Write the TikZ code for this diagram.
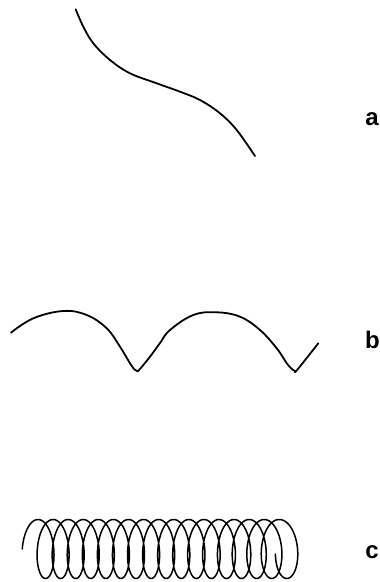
\documentclass[tikz,border=0pt]{standalone}
\usepackage{fontspec}
\setmainfont{Liberation Sans}
\begin{document}
\begin{tikzpicture}[x=1pt,y=-1pt,
  trace/.style={line width=1.8pt,line cap=round,line join=round},
  lbl/.style={font=\fontsize{24}{24}\selectfont\bfseries,anchor=base,inner sep=0pt}]
\useasboundingbox (0,0) rectangle (380,582);
% curve a
\draw[trace] plot[smooth,tension=0.6] coordinates {
 (75.7,9.3) (83.3,26.7) (93.3,43.3) (110,60) (130,73.3) (156.7,83.3)
 (180,91.7) (200,100) (220,113.3) (236.7,130) (255,156)};
% curve b
\draw[trace] plot[smooth,tension=0.65] coordinates {
 (11,332.7) (33.3,318.3) (63.3,311) (86.7,315) (106.7,328.3) (120,346.7)
 (130,363.3) (134.5,369.5) (137,371) (139.5,369.5) (150,356.7) (160,343)
 (170,330) (193.3,315) (216.7,312.3) (240,316.7) (260,330) (276.7,348.3)
 (287,363.5) (292.5,369.5) (295,371) (297.5,369.5) (318.3,343.3)};
% curve c (helix)
\draw[line width=1.5pt,line cap=round,line join=round]
  plot[variable=\t,domain=-1.5708:105.1,samples=1600]
  ({38+2.4*\t+(12+3*(\t/105.1)^6)*sin(\t r)},{549-29.5*cos(\t r)});
\node[lbl] (la) at (372,125) {a};
\node[lbl] (lb) at (372.5,348) {b};
\node[lbl] (lc) at (372,558) {c};
\end{tikzpicture}
\end{document}
